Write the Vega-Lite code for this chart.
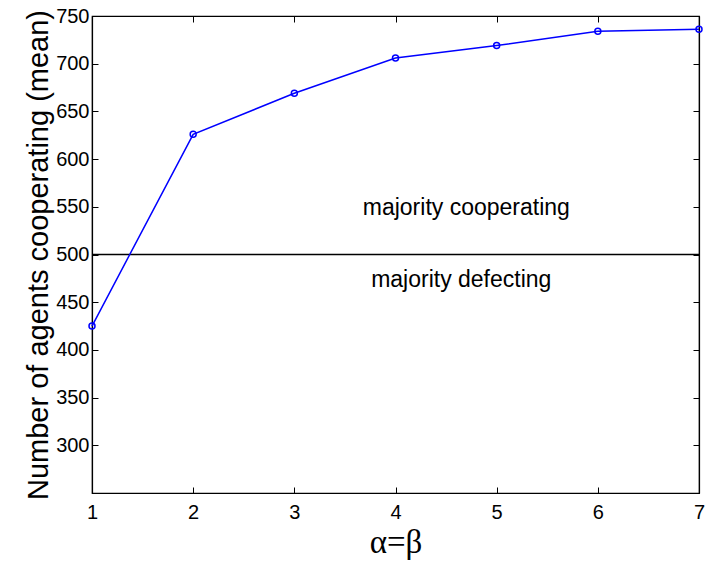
{
  "$schema": "https://vega.github.io/schema/vega-lite/v6.json",
  "autosize": "none",
  "width": 607,
  "height": 477,
  "padding": {"left": 92, "top": 16, "right": 6, "bottom": 69},
  "background": "white",
  "config": {
    "view": {"stroke": "black", "strokeWidth": 1.2},
    "font": "Liberation Sans",
    "axis": {
      "grid": false,
      "domain": true,
      "domainColor": "black",
      "domainWidth": 1.2,
      "tickColor": "black",
      "tickSize": -6,
      "tickWidth": 1,
      "labelFont": "Liberation Sans",
      "labelFontSize": 20,
      "labelColor": "black",
      "titleColor": "black",
      "titleFontWeight": "normal"
    }
  },
  "datasets": {
    "pts": [
      {"ab": 1, "coop": 425},
      {"ab": 2, "coop": 626},
      {"ab": 3, "coop": 669},
      {"ab": 4, "coop": 706},
      {"ab": 5, "coop": 719},
      {"ab": 6, "coop": 734},
      {"ab": 7, "coop": 736}
    ],
    "notes": [
      {"ab": 4.7, "coop": 549, "label": "majority cooperating"},
      {"ab": 4.65, "coop": 473, "label": "majority defecting"}
    ],
    "ref": [{"coop": 500}]
  },
  "layer": [
    {
      "layer": [
        {
          "data": {"name": "ref"},
          "mark": {"type": "rule", "color": "black", "strokeWidth": 1.5},
          "encoding": {
            "y": {"field": "coop", "type": "quantitative"}
          }
        },
        {
          "data": {"name": "pts"},
          "mark": {"type": "line", "color": "#0000ff", "strokeWidth": 1.5},
          "encoding": {
            "x": {"field": "ab", "type": "quantitative"},
            "y": {"field": "coop", "type": "quantitative"}
          }
        },
        {
          "data": {"name": "pts"},
          "mark": {"type": "point", "shape": "circle", "filled": false, "color": "#0000ff", "size": 36, "strokeWidth": 1.5, "opacity": 1},
          "encoding": {
            "x": {
              "field": "ab", "type": "quantitative",
              "scale": {"domain": [1, 7], "nice": false, "zero": false},
              "axis": {"orient": "bottom", "values": [1, 2, 3, 4, 5, 6, 7], "format": "d", "title": "α=β", "titleFont": "Liberation Serif", "titleFontSize": 33, "titlePadding": 4, "labelPadding": 15, "labelFlush": false}
            },
            "y": {
              "field": "coop", "type": "quantitative",
              "scale": {"domain": [250, 750], "nice": false, "zero": false},
              "axis": {"orient": "left", "values": [300, 350, 400, 450, 500, 550, 600, 650, 700, 750], "title": "Number of agents cooperating (mean)", "titleFontSize": 29, "titlePadding": 2, "labelPadding": 9, "labelFlush": false}
            }
          }
        },
        {
          "data": {"name": "notes"},
          "mark": {"type": "text", "fontSize": 23, "color": "black", "align": "center", "baseline": "middle", "font": "Liberation Sans"},
          "encoding": {
            "x": {"field": "ab", "type": "quantitative"},
            "y": {"field": "coop", "type": "quantitative"},
            "text": {"field": "label"}
          }
        }
      ]
    },
    {
      "data": {"name": "pts"},
      "mark": {"type": "point", "opacity": 0},
      "encoding": {
        "x": {
          "field": "ab", "type": "quantitative",
          "scale": {"domain": [1, 7], "nice": false, "zero": false},
          "axis": {"orient": "top", "values": [1, 2, 3, 4, 5, 6, 7], "labels": false, "title": null}
        },
        "y": {
          "field": "coop", "type": "quantitative",
          "scale": {"domain": [250, 750], "nice": false, "zero": false},
          "axis": {"orient": "right", "values": [300, 350, 400, 450, 500, 550, 600, 650, 700, 750], "labels": false, "title": null}
        }
      }
    }
  ],
  "resolve": {"axis": {"x": "independent", "y": "independent"}}
}
